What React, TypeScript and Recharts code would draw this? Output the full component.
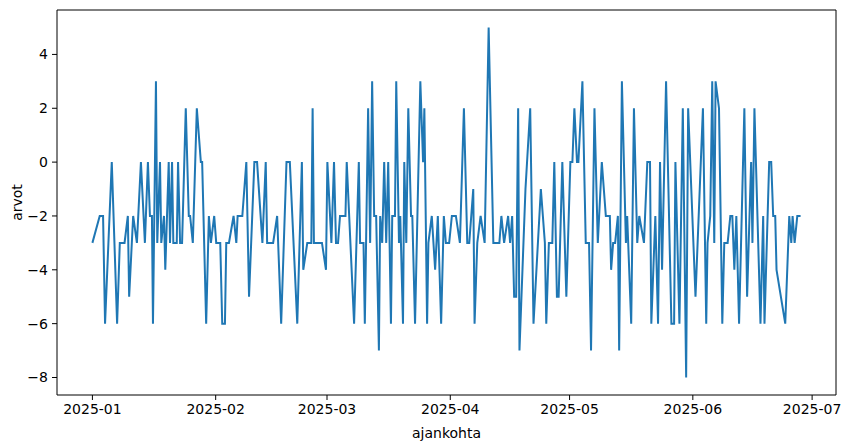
import React from "react";
import { Line, LineChart, XAxis, YAxis } from "recharts";

// havaintojen ajankohta: päiviä 2025-01-01 alusta (luettu kuvasta)
const dayOffsets = [
  0, 1.84, 2.68, 3.18, 4.87, 6.21, 6.89, 8.08, 8.91, 9.24,
  10.25, 11.19, 12.2, 13.2, 13.96, 14.47, 14.97, 15.23, 15.98, 16.31,
  17.0, 17.32, 18.0, 18.33, 19.19, 19.52, 20.03, 20.35, 21.21, 21.54,
  22.05, 22.55, 23.48, 24.24, 24.57, 25.25, 26.26, 27.27, 27.6, 28.61,
  29.29, 29.8, 30.63, 31.14, 32.15, 32.65, 33.33, 33.66, 34.34, 35.5,
  36.19, 36.52, 37.7, 38.71, 39.39, 40.73, 41.41, 42.75, 43.59, 43.94,
  45.45, 46.46, 47.47, 48.81, 49.65, 51.52, 52.68, 53.03, 54.04, 55.05,
  55.38, 55.71, 57.73, 58.74, 59.09, 60.1, 60.76, 61.26, 61.77, 62.27,
  63.64, 63.96, 65.81, 67.0, 67.32, 68.18, 68.51, 69.34, 69.85, 70.35,
  70.86, 71.36, 72.05, 72.37, 72.88, 73.38, 73.89, 74.39, 75.08, 75.4,
  76.09, 76.41, 77.1, 77.42, 78.11, 78.43, 78.94, 79.44, 80.13, 80.45,
  81.14, 82.47, 83.16, 83.48, 84.17, 84.5, 85.35, 86.19, 86.87, 87.7,
  88.38, 88.89, 89.72, 90.4, 91.41, 92.42, 93.43, 94.27, 94.77, 95.78,
  96.11, 96.79, 97.63, 98.64, 99.65, 100.83, 102.35, 102.85, 103.54, 104.55,
  105.05, 105.56, 106.06, 106.57, 107.07, 107.4, 108.91, 110.1, 110.93, 112.78,
  113.79, 114.14, 114.8, 115.66, 116.16, 116.82, 117.25, 118.18, 119.19, 120.2,
  120.71, 121.21, 121.87, 122.22, 123.23, 124.07, 124.9, 125.4, 126.26, 127.1,
  128.11, 129.12, 130.13, 130.45, 130.96, 131.46, 132.15, 132.47, 133.16, 134.17,
  134.49, 135.5, 136.19, 137.02, 137.53, 138.71, 139.55, 140.23, 140.56, 141.57,
  142.25, 142.75, 143.26, 144.27, 145.61, 146.29, 146.62, 147.63, 148.48, 149.32,
  149.82, 151.67, 153.54, 154.37, 154.7, 155.38, 155.88, 156.39, 156.72, 157.58,
  158.41, 158.91, 159.75, 160.43, 160.93, 161.44, 161.94, 162.63, 163.96, 164.65,
  165.66, 165.99, 166.49, 168.01, 168.69, 169.02, 170.2, 170.71, 171.21, 171.72,
  172.05, 174.24, 175.25, 175.76, 176.09, 176.6, 177.27, 178.1,
];

const arvot = [
  -3, -2, -2, -6, 0, -6, -3, -3, -2, -5,
  -2, -3, 0, -3, 0, -2, -2, -6, 3, -3,
  0, -3, -2, -4, 0, -3, 0, -3, -3, 0,
  -3, -3, 2, -2, -2, -3, 2, 0, 0, -6,
  -2, -3, -2, -3, -3, -6, -6, -3, -3, -2,
  -3, -2, -2, 0, -5, 0, 0, -3, 0, -3,
  -3, -2, -6, 0, 0, -6, 0, -4, -3, -3,
  2, -3, -3, -4, 0, -3, 0, -3, -3, -2,
  -2, 0, -6, 0, -3, -3, -6, 2, -3, 3,
  -2, -2, -7, -2, -3, 0, -3, 0, -6, -2,
  -2, 3, -3, -2, -6, 0, -3, 2, -2, -2,
  -6, 3, 0, 2, -6, -3, -2, -4, -2, -6,
  -2, -3, -3, -2, -2, -3, 2, -3, -3, -1,
  -6, -3, -2, -3, 5, -3, -3, -2, -3, -2,
  -3, -2, -5, -5, 2, -7, -1, 2, -6, -1,
  -3, -6, -3, -3, 0, -5, -5, 0, -5, 0,
  0, 2, 0, 0, 3, -3, -3, -7, 2, -3,
  0, -2, -2, -4, -3, -3, -2, -7, 3, -3,
  -2, -6, 2, -3, -2, -3, 0, 0, -6, -2,
  -6, 0, -4, 3, -6, -6, 0, -6, 2, -8,
  2, -5, 2, -6, -3, -2, 3, -3, 3, 2,
  -6, -3, -3, -2, -2, -4, -2, -6, 2, -5,
  0, -3, 2, -6, -2, -6, 0, 0, -2, -2,
  -4, -6, -2, -3, -2, -3, -2, -2,
];

const yTicks = [-8, -6, -4, -2, 0, 2, 4];
const tickMonths = [0, 1, 2, 3, 4, 5, 6];

const DAY = 86400000;
const START = Date.UTC(2025, 0, 1);

const data = dayOffsets.map((d, i) => ({ t: START + d * DAY, arvo: arvot[i] }));

const xTicks = tickMonths.map((m) => Date.UTC(2025, m, 1));

const tMin = data[0].t;
const tMax = data[data.length - 1].t;
const tPad = (tMax - tMin) * 0.05;
const vMin = Math.min(...arvot);
const vMax = Math.max(...arvot);
const vPad = (vMax - vMin) * 0.05;

const xDomain = [tMin - tPad, tMax + tPad];
const yDomain = [vMin - vPad, vMax + vPad];

const formatMonth = (t: number) => {
  const d = new Date(t);
  return `${d.getUTCFullYear()}-${String(d.getUTCMonth() + 1).padStart(2, "0")}`;
};

const formatValue = (v: number) => String(v).replace("-", "\u2212");

const fontSize = 14;
const textStyle = { fill: "#000", fontSize };

export default function App() {
  return (
    <div
      style={{
        position: "absolute",
        left: 0,
        top: 0,
        width: 863,
        height: 448,
        background: "#fff",
        fontFamily: "'DejaVu Sans', sans-serif",
      }}
    >
      <LineChart
        width={863}
        height={448}
        data={data}
        margin={{ top: 9, right: 26, bottom: 0, left: 0 }}
      >
        <XAxis
          xAxisId="b"
          dataKey="t"
          type="number"
          scale="linear"
          domain={xDomain}
          ticks={xTicks}
          tickFormatter={formatMonth}
          allowDataOverflow
          height={53}
          tickSize={5}
          tickMargin={4}
          stroke="#000"
          tick={textStyle}
          interval={0}
          label={{
            value: "ajankohta",
            position: "insideBottom",
            offset: 10,
            fill: "#000",
            fontSize,
          }}
        />
        <XAxis
          xAxisId="top"
          orientation="top"
          dataKey="t"
          type="number"
          domain={xDomain}
          allowDataOverflow
          height={1}
          tick={false}
          tickLine={false}
          stroke="#000"
        />
        <YAxis
          yAxisId="l"
          type="number"
          domain={yDomain}
          ticks={yTicks}
          tickFormatter={formatValue}
          allowDataOverflow
          width={57}
          tickSize={5}
          tickMargin={4}
          stroke="#000"
          tick={textStyle}
          interval={0}
          label={{
            value: "arvot",
            angle: -90,
            position: "insideLeft",
            offset: 17,
            fill: "#000",
            fontSize,
            style: { textAnchor: "middle" },
          }}
        />
        <YAxis
          yAxisId="r"
          orientation="right"
          type="number"
          domain={yDomain}
          allowDataOverflow
          width={1}
          tick={false}
          tickLine={false}
          stroke="#000"
        />
        <Line
          xAxisId="b"
          yAxisId="l"
          type="linear"
          dataKey="arvo"
          stroke="#1f77b4"
          strokeWidth={2}
          dot={false}
          isAnimationActive={false}
        />
      </LineChart>
    </div>
  );
}
